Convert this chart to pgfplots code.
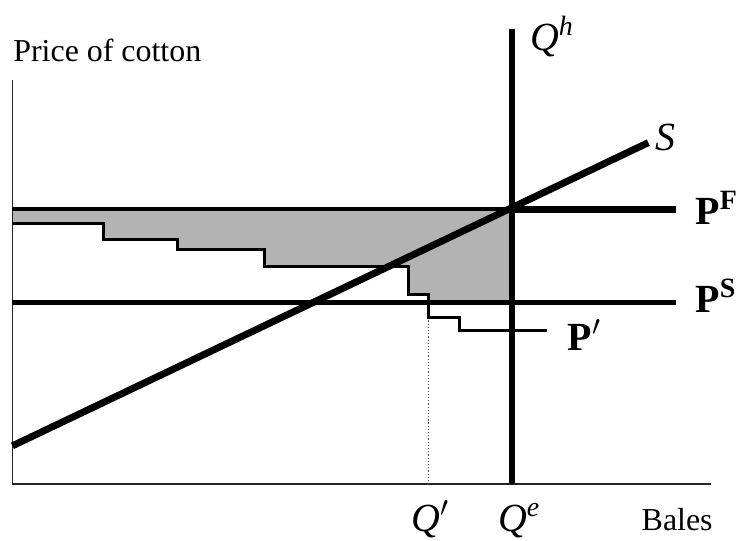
\documentclass[border=0pt]{standalone}
\usepackage{fontspec}
\setmainfont{Liberation Serif}
\usepackage{pgfplots}
\pgfplotsset{compat=1.18}
\definecolor{shade}{RGB}{179,179,179}
\begin{document}
\begin{tikzpicture}
\begin{axis}[
  width=369pt, height=271pt, scale only axis,
  xmin=0, xmax=738, ymin=0, ymax=542, y dir=reverse,
  hide axis, clip=false,
]
\path (rel axis cs:0,0) rectangle (rel axis cs:1,1);
% shaded area
\addplot[fill=shade, draw=none] coordinates {
  (12.5,210) (513,210) (513,303) (430,303) (430,295) (410,295) (410,267)
  (265,267) (265,250) (178,250) (178,240) (104,240) (104,224) (12.5,224)} -- cycle;
% axes
\addplot[black!85, line width=0.8pt] coordinates {(12.5,80) (12.5,485) (713,485)};
% dotted drop line
\addplot[black!70, densely dotted, line width=0.6pt] coordinates {(430,318) (430,485)};
% step demand P'
\addplot[black, line width=1.5pt] coordinates {
  (12.5,224) (104,224) (104,240) (178,240) (178,250) (265,250) (265,267)
  (410,267) (410,295) (430,295) (430,318) (461,318) (461,331) (548,331)};
% P^S
\addplot[black, line width=2.5pt] coordinates {(12.5,303) (678,303)};
% P^F
\addplot[black, line width=2pt] coordinates {(12.5,210) (513,210)};
\addplot[black, line width=3.2pt] coordinates {(513,210) (678,210)};
% Q^h
\addplot[black, line width=3pt] coordinates {(513,29) (513,485)};
% S
\addplot[black, line width=3.5pt] coordinates {(12.5,447) (650,143)};
% labels
\node[anchor=base west, inner sep=0pt, font=\fontsize{16}{19}\selectfont] at (axis cs:13,62) {Price of cotton};
\node[anchor=base west, inner sep=0pt, font=\fontsize{16}{19}\selectfont] at (axis cs:643,532) {Bales};
\node[anchor=base west, inner sep=0pt, font=\fontsize{20}{23}\selectfont] at (axis cs:531,51) {\textit{Q}\textsuperscript{\textit{h}}};
\node[anchor=base west, inner sep=0pt, font=\fontsize{20}{23}\selectfont] at (axis cs:657,151) {\textit{S}};
\node[anchor=base west, inner sep=0pt, font=\fontsize{20}{23}\selectfont] at (axis cs:697,225) {\textbf{P}\textsuperscript{\textbf{F}}};
\node[anchor=base west, inner sep=0pt, font=\fontsize{20}{23}\selectfont] at (axis cs:697,313) {\textbf{P}\textsuperscript{\textbf{S}}};
\node[anchor=base west, inner sep=0pt, font=\fontsize{20}{23}\selectfont] at (axis cs:569,351) {\textbf{P}$^{\prime}$};
\node[anchor=base west, inner sep=0pt, font=\fontsize{20}{23}\selectfont] at (axis cs:412,533) {\textit{Q}$^{\prime}$};
\node[anchor=base west, inner sep=0pt, font=\fontsize{20}{23}\selectfont] at (axis cs:499,533) {\textit{Q}\textsuperscript{\textit{e}}};
\end{axis}
\end{tikzpicture}
\end{document}
